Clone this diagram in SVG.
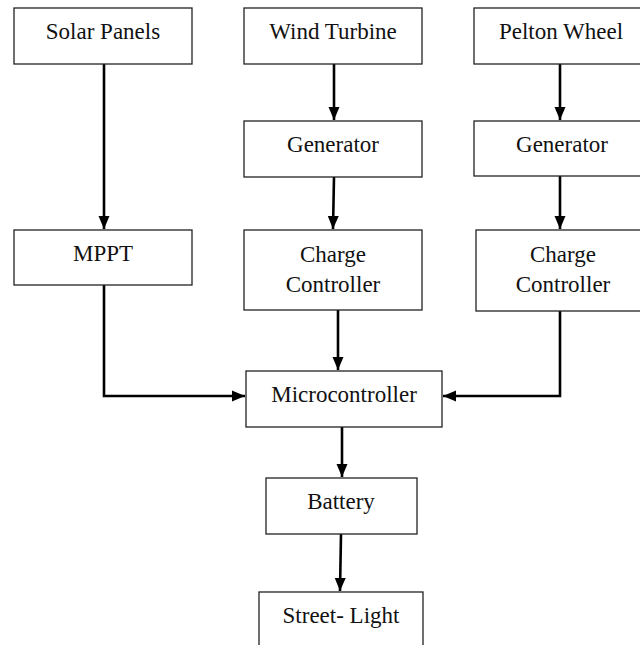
<svg xmlns="http://www.w3.org/2000/svg" width="640" height="645" viewBox="0 0 640 645">
<defs>
<style>
.box{fill:#fff;stroke:#222;stroke-width:1.3}
.t{font-size:23px;fill:#111;text-anchor:middle}
.c{fill:none;stroke:#000;stroke-width:2.6}
</style>
<marker id="ah" markerUnits="userSpaceOnUse" markerWidth="14" markerHeight="14" viewBox="0 0 14 14" refX="13" refY="7" orient="auto">
<path d="M0,1.5 L13,7 L0,12.5 Z" fill="#000"/>
</marker>
</defs>
<rect width="640" height="645" fill="#fff"/>
<g id="connectors">
<path class="c" d="M104,64 V229" marker-end="url(#ah)"/>
<path class="c" d="M334,64 V120" marker-end="url(#ah)"/>
<path class="c" d="M560,64 V120" marker-end="url(#ah)"/>
<path class="c" d="M334,177 L333,229" marker-end="url(#ah)"/>
<path class="c" d="M560,176 V229" marker-end="url(#ah)"/>
<path class="c" d="M104,285 V396 H245" marker-end="url(#ah)"/>
<path class="c" d="M338,310 V370" marker-end="url(#ah)"/>
<path class="c" d="M560,311 V396 H443" marker-end="url(#ah)"/>
<path class="c" d="M342,427 V477" marker-end="url(#ah)"/>
<path class="c" d="M341,534 L340,591" marker-end="url(#ah)"/>
</g>
<g font-family="Liberation Serif, DejaVu Serif, Times New Roman, serif">
<g id="solar"><rect class="box" x="14" y="8" width="178" height="56"/><text class="t" x="103" y="39">Solar Panels</text></g>
<g id="wind"><rect class="box" x="244" y="8" width="178" height="56"/><text class="t" x="333" y="39">Wind Turbine</text></g>
<g id="pelton"><rect class="box" x="474" y="8" width="180" height="56"/><text class="t" x="561" y="39">Pelton Wheel</text></g>
<g id="gen1"><rect class="box" x="244" y="121" width="178" height="56"/><text class="t" x="333" y="152">Generator</text></g>
<g id="gen2"><rect class="box" x="474" y="121" width="180" height="55"/><text class="t" x="562" y="152">Generator</text></g>
<g id="mppt"><rect class="box" x="14" y="230" width="178" height="55"/><text class="t" x="103" y="261">MPPT</text></g>
<g id="cc1"><rect class="box" x="244" y="230" width="178" height="80"/><text class="t" x="333" y="262">Charge</text><text class="t" x="333" y="292">Controller</text></g>
<g id="cc2"><rect class="box" x="476" y="230" width="178" height="81"/><text class="t" x="563" y="262">Charge</text><text class="t" x="563" y="292">Controller</text></g>
<g id="micro"><rect class="box" x="246" y="371" width="196" height="56"/><text class="t" x="344" y="402">Microcontroller</text></g>
<g id="battery"><rect class="box" x="266" y="478" width="151" height="56"/><text class="t" x="341" y="509">Battery</text></g>
<g id="streetlight"><rect class="box" x="259" y="592" width="164" height="70"/><text class="t" x="341" y="623">Street- Light</text></g>
</g>
</svg>
